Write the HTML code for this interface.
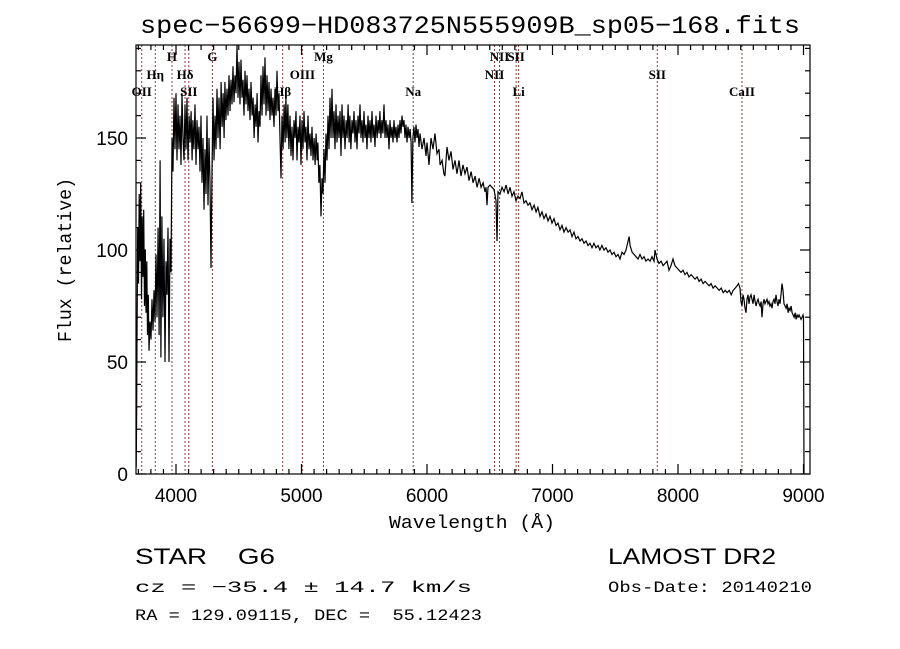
<!DOCTYPE html>
<html><head><meta charset="utf-8"><style>
html,body{margin:0;padding:0;background:#fff;}
svg{display:block;}
text{fill:#000;white-space:pre;}
</style></head><body>
<svg id="chart" width="900" height="649" viewBox="0 0 900 649" xmlns="http://www.w3.org/2000/svg" xml:space="preserve">
<rect width="900" height="649" fill="#fff"/>
<text x="470" y="33" text-anchor="middle" font-family="Liberation Mono, monospace" font-size="25" textLength="660" lengthAdjust="spacingAndGlyphs">spec−56699−HD083725N555909B_sp05−168.fits</text>
<g id="lines"></g>
<g id="linelabels" font-family="Liberation Serif, serif" font-size="13" font-weight="bold"></g>
<path id="spec" fill="none" stroke="#000" stroke-width="1.2" stroke-linejoin="miter"/>
<g id="axes" stroke="#000" stroke-width="1.2" fill="none"></g>
<g id="ticklabels" font-family="Liberation Sans, sans-serif" font-size="19"></g>
<text x="472" y="528" text-anchor="middle" font-family="Liberation Mono, monospace" font-size="18" textLength="166" lengthAdjust="spacingAndGlyphs">Wavelength (Å)</text>
<text transform="translate(71,260) rotate(-90)" text-anchor="middle" font-family="Liberation Mono, monospace" font-size="19" textLength="164" lengthAdjust="spacingAndGlyphs">Flux (relative)</text>
<text x="135" y="564" font-family="Liberation Sans, sans-serif" font-size="22" textLength="140" lengthAdjust="spacingAndGlyphs">STAR    G6</text>
<text x="608" y="564" font-family="Liberation Sans, sans-serif" font-size="22" textLength="168" lengthAdjust="spacingAndGlyphs">LAMOST DR2</text>
<text x="135" y="592" font-family="Liberation Mono, monospace" font-size="16" textLength="337" lengthAdjust="spacingAndGlyphs">cz = −35.4 ± 14.7 km/s</text>
<text x="608" y="592" font-family="Liberation Mono, monospace" font-size="16" textLength="204" lengthAdjust="spacingAndGlyphs">Obs-Date: 20140210</text>
<text x="135" y="620" font-family="Liberation Mono, monospace" font-size="16" textLength="347" lengthAdjust="spacingAndGlyphs">RA = 129.09115, DEC =  55.12423</text>
</svg>
<script>
const wl=[3683,3686,3689,3695,3701,3707,3713,3719,3725,3731,3737,3743,3749,3755,3761,3767,3773,3779,3785,3793,3801,3809,3817,3825,3833,3841,3849,3857,3865,3873,3880,3888,3896,3904,3912,3920,3928,3936,3944,3952,3960,3968,3976,3984,3992,4000,4008,4016,4024,4032,4040,4048,4056,4064,4072,4080,4088,4096,4104,4112,4120,4128,4135,4143,4151,4159,4167,4175,4183,4191,4199,4207,4215,4223,4231,4239,4247,4255,4263,4271,4279,4287,4295,4303,4311,4319,4327,4335,4343,4351,4359,4367,4375,4383,4390,4398,4406,4414,4422,4430,4438,4446,4454,4462,4470,4478,4486,4494,4502,4510,4518,4526,4534,4542,4550,4558,4566,4574,4582,4590,4598,4606,4614,4622,4630,4638,4646,4653,4661,4669,4677,4685,4693,4701,4709,4717,4725,4733,4741,4749,4757,4765,4773,4781,4789,4797,4805,4813,4821,4829,4837,4845,4853,4861,4869,4876,4884,4892,4900,4908,4916,4924,4932,4940,4948,4956,4964,4972,4980,4988,4996,5004,5012,5020,5028,5036,5044,5052,5060,5068,5076,5084,5092,5100,5108,5116,5124,5131,5139,5147,5155,5163,5171,5179,5187,5195,5203,5211,5219,5227,5235,5243,5251,5259,5267,5275,5283,5291,5299,5307,5315,5323,5331,5339,5347,5355,5363,5371,5379,5386,5394,5402,5410,5418,5426,5434,5442,5450,5458,5466,5474,5482,5490,5498,5506,5514,5522,5530,5538,5546,5554,5562,5570,5578,5586,5594,5602,5610,5618,5625,5633,5641,5649,5657,5665,5673,5681,5689,5697,5705,5713,5721,5729,5737,5745,5753,5761,5769,5777,5785,5793,5801,5809,5817,5825,5833,5841,5849,5857,5865,5873,5880,5888,5896,5904,5912,5920,5928,5936,5944,5960,5976,5992,6000,6016,6032,6048,6064,6080,6096,6104,6120,6135,6143,6159,6175,6191,6207,6223,6239,6255,6271,6287,6303,6319,6335,6351,6367,6383,6399,6415,6431,6447,6462,6470,6478,6486,6502,6518,6534,6550,6558,6566,6582,6598,6614,6630,6646,6661,6677,6693,6709,6725,6741,6757,6773,6789,6805,6821,6837,6853,6869,6884,6900,6916,6932,6948,6964,6980,6996,7012,7028,7044,7060,7076,7092,7108,7124,7140,7155,7171,7187,7203,7219,7235,7251,7267,7283,7299,7315,7331,7347,7363,7378,7394,7410,7426,7442,7458,7474,7490,7506,7522,7538,7554,7570,7586,7602,7610,7618,7634,7650,7665,7681,7697,7713,7729,7745,7761,7777,7793,7809,7817,7833,7849,7865,7881,7897,7912,7928,7944,7960,7976,7992,8008,8024,8040,8056,8072,8088,8104,8120,8136,8152,8168,8184,8200,8216,8232,8248,8264,8280,8296,8312,8328,8344,8360,8376,8392,8408,8424,8440,8456,8470,8482,8494,8502,8510,8518,8526,8534,8542,8550,8558,8566,8574,8582,8590,8598,8606,8614,8622,8630,8638,8646,8654,8662,8669,8677,8685,8693,8701,8709,8717,8725,8733,8741,8749,8757,8765,8773,8781,8789,8797,8805,8813,8821,8829,8837,8845,8853,8861,8869,8877,8885,8893,8901,8909,8917,8925,8933,8941,8949,8957,8965,8973,8981,8989,8996,9000,9004];
const flux=[3,24,60,110,85,125,95,130,78,115,88,118,75,100,72,95,62,80,55,68,60,78,64,82,68,98,70,110,62,140,52,115,70,105,50,95,80,110,50,105,90,150,135,168,145,170,140,165,145,160,138,170,150,140,165,145,168,140,160,148,162,140,158,145,165,138,158,145,155,135,160,130,150,118,145,125,160,120,150,130,92,135,168,140,160,145,172,150,168,145,175,155,170,150,175,158,172,160,178,162,176,165,182,166,178,170,192,168,184,165,185,168,176,160,180,165,178,162,172,158,175,160,168,150,165,155,170,148,162,155,178,160,182,165,186,160,178,162,175,158,172,160,168,155,172,160,180,162,170,150,132,160,145,165,148,168,150,165,145,160,142,155,140,158,150,162,140,155,148,160,138,158,145,162,148,155,140,160,145,152,142,155,140,150,138,152,140,148,130,138,115,132,125,145,130,152,140,160,145,168,150,172,150,162,145,165,148,160,150,162,142,165,150,160,145,158,150,165,148,160,145,158,152,162,148,158,145,160,152,165,150,158,148,162,150,156,145,160,150,158,148,162,150,156,146,160,150,158,152,162,150,158,152,165,150,158,150,156,145,158,150,155,148,158,150,155,148,156,150,158,152,160,155,158,150,156,148,155,150,154,148,121,150,155,148,156,150,154,146,152,145,150,142,148,138,150,145,152,143,145,138,140,134,133,146,140,144,136,140,134,140,133,138,134,137,131,135,130,133,128,132,128,130,126,128,120,128,129,128,127,122,104,126,125,128,126,129,125,128,124,126,122,124,123,126,121,122,120,121,118,120,117,119,115,117,114,116,113,115,112,114,111,112,109,111,108,110,108,109,106,108,105,106,104,105,103,104,102,103,101,103,101,102,100,102,100,101,99,100,98,99,97,98,96,99,98,100,104,106,102,99,98,97,96,98,96,97,95,96,95,97,95,100,96,94,95,93,94,95,91,93,96,93,92,91,90,91,89,90,88,89,88,87,88,86,87,85,86,85,84,85,83,84,83,82,83,81,82,81,82,80,82,83,84,85,83,77,75,80,78,74,72,78,80,76,79,80,78,76,80,77,75,77,78,76,75,77,70,76,78,76,77,78,76,77,75,76,74,77,78,76,80,77,75,78,76,80,85,82,76,75,74,76,72,74,73,75,72,71,70,72,69,71,70,71,70,69,70,71,70,0];
const lineNames=["OII","Hη","H","Hδ","SII","G","Hβ","OIII","Mg","Na","NII","NII","SII","Li","SII","CaII"];
const lineWl=[3727,3835,3968,4072,4102,4290,4850,5007,5175,5890,6538,6578,6710,6730,7835,8510];
const lineRow=[2,1,0,1,2,0,2,1,0,2,1,0,0,2,1,2];
const xTicks=[4000,5000,6000,7000,8000,9000];
const yTicks=[0,50,100,150];
const NS="http://www.w3.org/2000/svg";
const L=136,R=810,T=45,B=474;
const xS=v=>176+(v-4000)*0.1255;
const yS=v=>474-v*2.24;
function mk(tag,parent,attrs){const e=document.createElementNS(NS,tag);for(const k in attrs)e.setAttribute(k,attrs[k]);parent.appendChild(e);return e;}
let d="";
for(let i=0;i<wl.length;i++){d+=(i?"L":"M")+xS(wl[i]).toFixed(1)+" "+Math.max(T,yS(flux[i])).toFixed(1);}
document.getElementById("spec").setAttribute("d",d);
const gl=document.getElementById("lines"),gt=document.getElementById("linelabels");
const rowY=[61,79,96];
lineWl.forEach((w,i)=>{
  const ln=mk("line",gl,{x1:xS(w),x2:xS(w),y1:T,y2:B,stroke:"#8b3a3a","stroke-width":1,"stroke-dasharray":"2,2"});
  
  
  const t=mk("text",gt,{x:xS(w),y:rowY[lineRow[i]],"text-anchor":"middle"});
  t.textContent=lineNames[i];
  
  
});
const ga=document.getElementById("axes");
const box=mk("rect",ga,{x:L,y:T,width:R-L,height:B-T});


const gtl=document.getElementById("ticklabels");
for(let v=3700;v<=9000;v+=100){
  const x=xS(v);if(x<L||x>R)continue;
  const len=(v%1000===0)?10:5;
  mk("line",ga,{x1:x,x2:x,y1:B,y2:B-len});
  mk("line",ga,{x1:x,x2:x,y1:T,y2:T+len});
}
xTicks.forEach(v=>{
  const t=mk("text",gtl,{x:xS(v),y:B+28,"text-anchor":"middle"});
  t.textContent=v;
  
  
});
for(let v=0;v<=190;v+=10){
  const y=yS(v);if(y<T)continue;
  const len=(v%50===0)?10:5;
  mk("line",ga,{x1:L,x2:L+len,y1:y,y2:y});
  mk("line",ga,{x1:R,x2:R-len,y1:y,y2:y});
}
yTicks.forEach(v=>{
  const t=mk("text",gtl,{x:L-8,y:yS(v)+7,"text-anchor":"end"});
  t.textContent=v;
  
  
});
</script>
</body></html>
